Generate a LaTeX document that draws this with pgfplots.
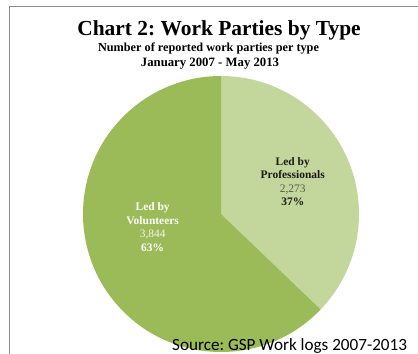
\documentclass[border=0pt]{standalone}
\usepackage{pgfplots}
\pgfplotsset{compat=1.18}
\usepackage{pgfplotstable}
\usepackage{fontspec}
\setmainfont{Liberation Serif}
\newfontfamily\srcfont{Carlito}
\definecolor{darkgreen}{HTML}{9BBB59}
\definecolor{lightgreen}{HTML}{C3D69B}
\definecolor{framegray}{HTML}{8C8C8C}
\pgfplotstableread{
type value
Professionals 2273
Volunteers 3844
}\piedata
\frenchspacing
\begin{document}
\begin{tikzpicture}[x=1bp,y=1bp]
\path[use as bounding box] (0,0) rectangle (418,354);
\fill[white] (0,0) rectangle (418,354);
\draw[framegray,line width=1bp] (9.5,0) -- (9.5,347.5) -- (418,347.5);
\pgfplotstablegetelem{0}{value}\of\piedata \let\vA\pgfplotsretval
\pgfplotstablegetelem{1}{value}\of\piedata \let\vB\pgfplotsretval
\pgfmathsetmacro{\fracA}{\vA/(\vA+\vB)}
\pgfmathsetmacro{\angA}{90-360*\fracA}
\begin{axis}[
  at={(221bp,140bp)}, anchor=center,
  x=138bp, y=138bp,
  xmin=-1, xmax=1, ymin=-1, ymax=1,
  hide axis, clip=false,
]
\fill[lightgreen] (axis cs:0,0) -- (axis cs:0,1) arc[start angle=90, end angle=\angA, radius=138bp] -- cycle;
\fill[darkgreen] (axis cs:0,0) -- (axis cs:{cos(\angA)},{sin(\angA)}) arc[start angle=\angA, end angle=-270, radius=138bp] -- cycle;
\node[align=center, font=\fontsize{11.5}{13.5}\selectfont, text=black!90] at (axis cs:0.52,0.235)
  {\textbf{Led by}\\\textbf{Professionals}\\{\color{black!65}2,273}\\\textbf{37\%}};
\node[align=center, font=\fontsize{11.5}{13.5}\selectfont, text=white] at (axis cs:-0.495,-0.095)
  {\textbf{Led by}\\\textbf{Volunteers}\\{\color{white!88!darkgreen}3,844}\\\textbf{63\%}};
\end{axis}
\node[font=\fontsize{21.5}{24}\selectfont\bfseries, anchor=base] at (219,319) {Chart 2: Work Parties by Type};
\node[font=\fontsize{12.3}{14}\selectfont\bfseries, anchor=base] at (208.5,303) {Number of reported work parties per type};
\node[font=\fontsize{12.8}{14}\selectfont\bfseries, anchor=base] at (210,288) {January 2007 - May 2013};
\node[font=\srcfont\fontsize{17.2}{20}\selectfont, anchor=base west, inner sep=0pt] at (172,4) {Source: GSP Work logs 2007-2013};
\end{tikzpicture}
\end{document}
